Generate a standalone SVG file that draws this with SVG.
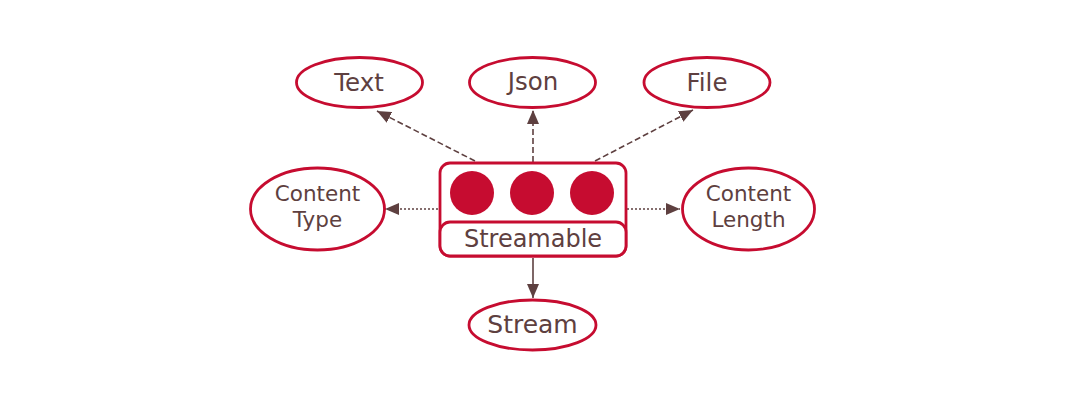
<svg xmlns="http://www.w3.org/2000/svg" width="1066" height="408" viewBox="0 0 1066 408">
<defs>
<marker id="ah" viewBox="0 0 14 12" refX="14" refY="6" markerWidth="14" markerHeight="12" markerUnits="userSpaceOnUse" orient="auto">
<path d="M0,0 L14,6 L0,12 Z" fill="#5e4040"/>
</marker>
<style>
.n{fill:#fff;stroke:#c60c30;stroke-width:2.8}
.t{fill:#5e4040;text-anchor:middle;font-family:"DejaVu Sans",Verdana,sans-serif}
.e{stroke:#5e4040;stroke-width:1.6;fill:none;marker-end:url(#ah)}
.dash{stroke-dasharray:6,3}
.dot{stroke-dasharray:2,2}
.dot3{fill:#c60c30}
</style>
</defs>
<rect width="1066" height="408" fill="#fff"/>
<g id="connectors">
<line class="e dash" x1="475" y1="161" x2="377" y2="111"/>
<line class="e dash" x1="533" y1="162" x2="533" y2="110"/>
<line class="e dash" x1="595" y1="161" x2="693" y2="110"/>
<line class="e dot" x1="438" y1="209" x2="385" y2="209"/>
<line class="e dot" x1="627" y1="209" x2="680" y2="209"/>
<line class="e" x1="533" y1="258" x2="533" y2="298"/>
</g>
<g id="streamable">
<rect class="n" x="440" y="163" width="186" height="93" rx="10"/>
<rect class="n" x="440" y="222" width="186" height="34" rx="10"/>
<circle class="dot3" cx="472" cy="193" r="22"/>
<circle class="dot3" cx="532" cy="193" r="22"/>
<circle class="dot3" cx="592" cy="193" r="22"/>
<text class="t" x="533" y="247" font-size="24">Streamable</text>
</g>
<g id="text">
<ellipse class="n" cx="359.5" cy="82.5" rx="63" ry="25"/>
<text class="t" x="359" y="91" font-size="24.5">Text</text>
</g>
<g id="json">
<ellipse class="n" cx="532.5" cy="82.5" rx="63" ry="25"/>
<text class="t" x="533" y="90" font-size="24.5">Json</text>
</g>
<g id="file">
<ellipse class="n" cx="707" cy="82.5" rx="63" ry="25"/>
<text class="t" x="707" y="91" font-size="24.5">File</text>
</g>
<g id="contenttype">
<ellipse class="n" cx="317.5" cy="209" rx="67" ry="41" stroke-width="3.2"/>
<text class="t" x="317.5" y="201" font-size="21.5">Content</text>
<text class="t" x="317.5" y="227" font-size="21.5">Type</text>
</g>
<g id="contentlength">
<ellipse class="n" cx="748.5" cy="209" rx="66" ry="41" stroke-width="3.2"/>
<text class="t" x="748.5" y="201" font-size="21.5">Content</text>
<text class="t" x="748.5" y="227" font-size="21.5">Length</text>
</g>
<g id="stream">
<ellipse class="n" cx="532.5" cy="325" rx="63.5" ry="25"/>
<text class="t" x="532.5" y="333" font-size="25">Stream</text>
</g>
</svg>
